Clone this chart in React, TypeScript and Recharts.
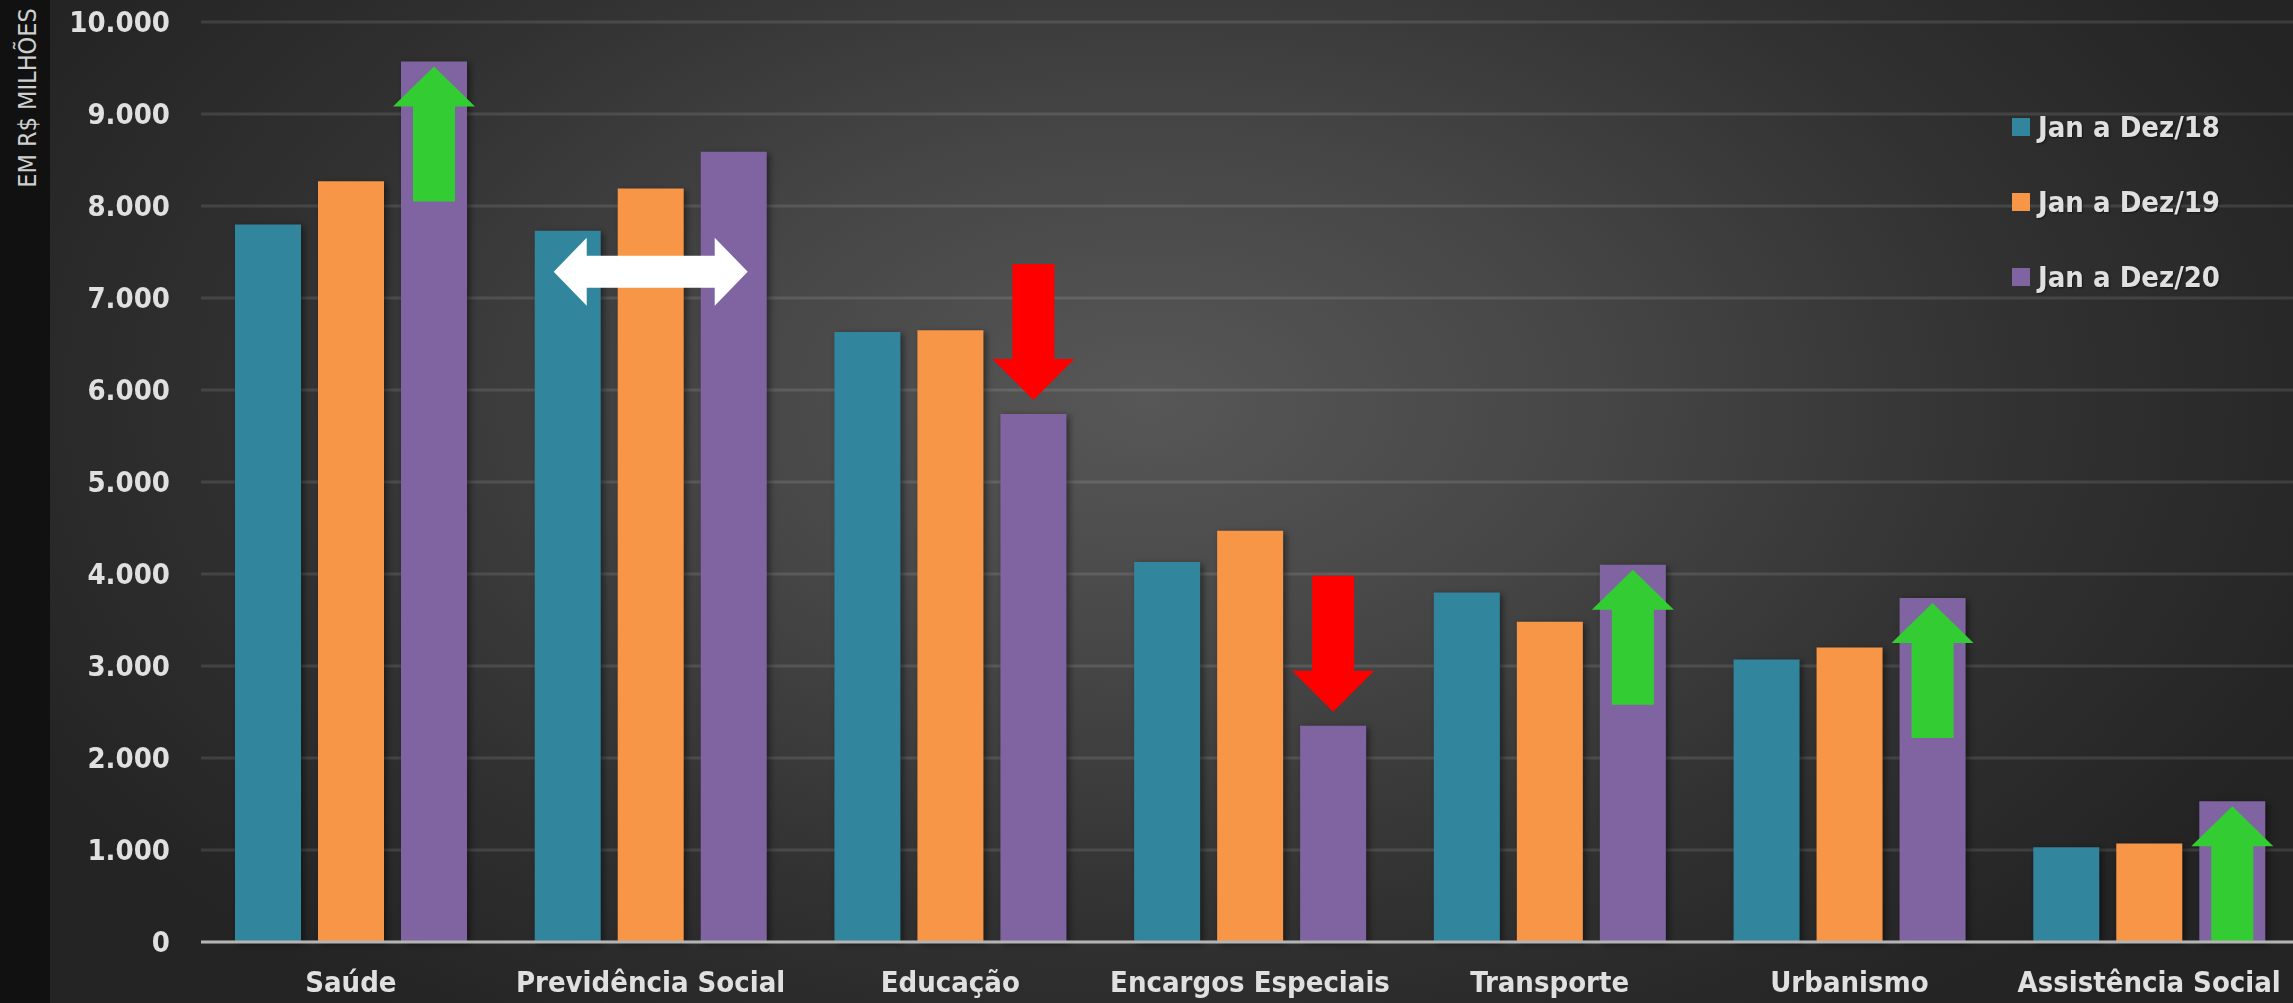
import { BarChart, Bar, XAxis, YAxis, CartesianGrid, Legend, Label, Rectangle } from 'recharts';

const categories = ['Saúde', 'Previdência Social', 'Educação', 'Encargos Especiais', 'Transporte', 'Urbanismo', 'Assistência Social'];
const jan18 = [7800, 7730, 6630, 4130, 3800, 3070, 1030];
const jan19 = [8270, 8190, 6650, 4470, 3480, 3200, 1070];
const jan20 = [9570, 8590, 5740, 2350, 4100, 3740, 1530];
// trend markers drawn on the 2020 bars
const trends = ['up', 'flat', 'down', 'down', 'up', 'up', 'up'];
const yTicks = [0, 1000, 2000, 3000, 4000, 5000, 6000, 7000, 8000, 9000, 10000];

const seriesNames = ['Jan a Dez/18', 'Jan a Dez/19', 'Jan a Dez/20'];
const colors = ['#31859C', '#F79646', '#8064A2'];

const data = categories.map((name, i) => ({ name, y18: jan18[i], y19: jan19[i], y20: jan20[i] }));

const FONT = '"DejaVu Sans Condensed", "DejaVu Sans", sans-serif';
const BAR = 66;
const GAP = 17;

const fmt = (v: number) => String(v).replace(/\B(?=(\d{3})+(?!\d))/g, '.');

const shadow = { filter: 'drop-shadow(3px 2px 3px rgba(0,0,0,0.45))' };

function PlainBar(props: any) {
  return <Rectangle {...props} style={shadow} />;
}

function TrendBar(props: any) {
  const { x, y, width, height, index } = props;
  const cx = x + width / 2;
  const t = trends[index];
  let arrow = null;
  if (t === 'up') {
    const tip = y + 5;
    const hb = tip + 40;
    const bot = tip + 135;
    arrow = (
      <polygon
        fill="#33CC33"
        points={`${cx},${tip} ${cx + 41},${hb} ${cx + 21},${hb} ${cx + 21},${bot} ${cx - 21},${bot} ${cx - 21},${hb} ${cx - 41},${hb}`}
      />
    );
  } else if (t === 'down') {
    const tip = y - 14;
    const hb = tip - 41;
    const top = tip - 136;
    arrow = (
      <polygon
        fill="#FF0000"
        points={`${cx},${tip} ${cx + 41},${hb} ${cx + 21},${hb} ${cx + 21},${top} ${cx - 21},${top} ${cx - 21},${hb} ${cx - 41},${hb}`}
      />
    );
  } else if (t === 'flat') {
    const mx = cx - (BAR + GAP);
    const my = y + 120;
    const L = mx - 97;
    const R = mx + 97;
    arrow = (
      <polygon
        fill="#FFFFFF"
        points={`${L},${my} ${L + 33},${my - 34} ${L + 33},${my - 16} ${R - 33},${my - 16} ${R - 33},${my - 34} ${R},${my} ${R - 33},${my + 34} ${R - 33},${my + 16} ${L + 33},${my + 16} ${L + 33},${my + 34}`}
      />
    );
  }
  return (
    <g>
      <Rectangle x={x} y={y} width={width} height={height} fill={props.fill} style={shadow} />
      {arrow}
    </g>
  );
}

function LegendBox() {
  return (
    <div style={{ fontFamily: FONT }}>
      {seriesNames.map((s, i) => (
        <div key={s} style={{ height: 75, display: 'flex', alignItems: 'center' }}>
          <span style={{ width: 18, height: 18, background: colors[i], display: 'inline-block', marginRight: 8 }} />
          <span style={{ color: '#e0e0e0', fontSize: 29, fontWeight: 'bold', whiteSpace: 'nowrap', textShadow: '1px 1px 2px rgba(0,0,0,0.5)' }}>{s}</span>
        </div>
      ))}
    </div>
  );
}

export default function App() {
  return (
    <div
      style={{
        position: 'fixed',
        left: 0,
        top: 0,
        width: 2293,
        height: 1003,
        overflow: 'hidden',
        background: 'radial-gradient(ellipse 55% 75% at 50% 40%, #575757 0%, #464646 35%, #313131 70%, #242424 100%)',
      }}
    >
      <div style={{ position: 'absolute', left: 0, top: 0, width: 50, height: 1003, background: '#111' }} />
      <BarChart
        width={2293}
        height={1003}
        data={data}
        margin={{ top: 22, right: -6, bottom: 0, left: 0 }}
        barSize={BAR}
        barGap={GAP}
        style={{ position: 'absolute', left: 0, top: 0 }}
      >
        <CartesianGrid vertical={false} stroke="rgba(255,255,255,0.11)" strokeWidth={3} />
        <XAxis
          dataKey="name"
          height={61}
          tickLine={false}
          tickSize={0}
          tickMargin={29}
          axisLine={{ stroke: '#b4b4b4', strokeWidth: 3 }}
          tick={{ fill: '#e0e0e0', fontSize: 29, fontWeight: 'bold', fontFamily: FONT }}
          interval={0}
        />
        <YAxis
          width={201}
          domain={[0, 10000]}
          ticks={yTicks}
          tickFormatter={fmt}
          axisLine={false}
          tickLine={false}
          tickSize={0}
          tickMargin={31}
          tick={{ fill: '#e0e0e0', fontSize: 29, fontWeight: 'bold', fontFamily: FONT }}
        >
          <Label
            content={() => (
              <text
                transform="translate(36,98) rotate(-90)"
                textAnchor="middle"
                fill="#cfcfcf"
                fontSize={25}
                fontFamily={FONT}
              >
                EM R$ MILHÕES
              </text>
            )}
          />
        </YAxis>
        <Legend
          layout="horizontal"
          verticalAlign="middle"
          align="center"
          content={<LegendBox />}
          wrapperStyle={{ left: 2012, top: 89, width: 270 }}
        />
        <Bar dataKey="y18" name={seriesNames[0]} fill={colors[0]} shape={PlainBar} isAnimationActive={false} />
        <Bar dataKey="y19" name={seriesNames[1]} fill={colors[1]} shape={PlainBar} isAnimationActive={false} />
        <Bar dataKey="y20" name={seriesNames[2]} fill={colors[2]} shape={TrendBar} isAnimationActive={false} />
      </BarChart>
    </div>
  );
}
